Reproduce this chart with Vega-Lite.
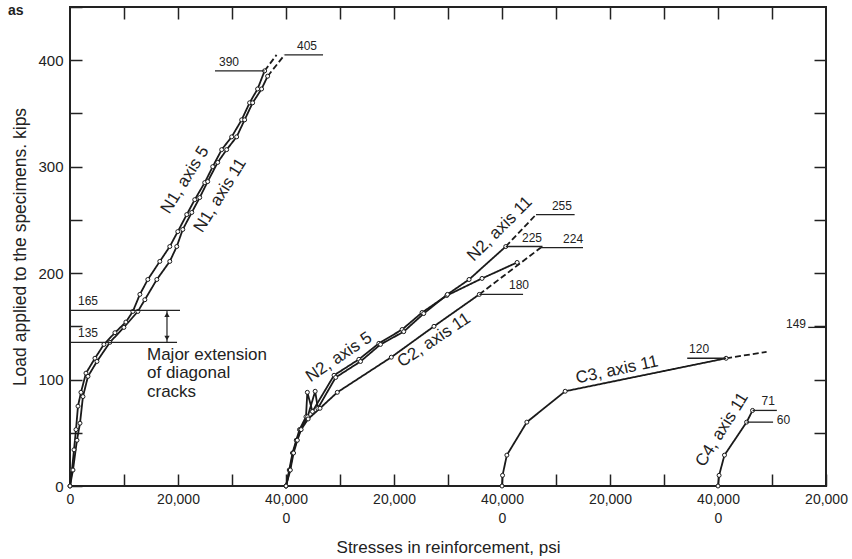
{
  "$schema": "https://vega.github.io/schema/vega-lite/v6.json",
  "width": 756,
  "height": 479,
  "autosize": "none",
  "padding": {"left": 70, "top": 7, "right": 26, "bottom": 73},
  "background": "white",
  "title": {"text": "as", "anchor": "start", "frame": "group", "fontSize": 14, "fontWeight": "bold", "font": "Liberation Sans", "color": "#222", "offset": 0, "baseline": "top", "dx": -62, "dy": 18},
  "config": {
    "view": {"stroke": "#222", "strokeWidth": 2},
    "font": "Liberation Sans",
    "text": {"color": "#222"}
  },
  "datasets": {
    "curves": [
      {"c": "N1a5", "d": "solid", "x": 0, "y": 0},
      {"c": "N1a5", "d": "solid", "x": 370, "y": 15},
      {"c": "N1a5", "d": "solid", "x": 740, "y": 34},
      {"c": "N1a5", "d": "solid", "x": 1110, "y": 53},
      {"c": "N1a5", "d": "solid", "x": 1480, "y": 75},
      {"c": "N1a5", "d": "solid", "x": 2030, "y": 88},
      {"c": "N1a5", "d": "solid", "x": 2960, "y": 106},
      {"c": "N1a5", "d": "solid", "x": 4620, "y": 120},
      {"c": "N1a5", "d": "solid", "x": 6280, "y": 133},
      {"c": "N1a5", "d": "solid", "x": 8320, "y": 144},
      {"c": "N1a5", "d": "solid", "x": 10350, "y": 154},
      {"c": "N1a5", "d": "solid", "x": 11640, "y": 164},
      {"c": "N1a5", "d": "solid", "x": 12940, "y": 180},
      {"c": "N1a5", "d": "solid", "x": 14410, "y": 194},
      {"c": "N1a5", "d": "solid", "x": 16630, "y": 211},
      {"c": "N1a5", "d": "solid", "x": 18480, "y": 225},
      {"c": "N1a5", "d": "solid", "x": 19960, "y": 239},
      {"c": "N1a5", "d": "solid", "x": 21620, "y": 255},
      {"c": "N1a5", "d": "solid", "x": 23100, "y": 269},
      {"c": "N1a5", "d": "solid", "x": 24950, "y": 285},
      {"c": "N1a5", "d": "solid", "x": 26430, "y": 300},
      {"c": "N1a5", "d": "solid", "x": 28090, "y": 316},
      {"c": "N1a5", "d": "solid", "x": 29940, "y": 328},
      {"c": "N1a5", "d": "solid", "x": 31790, "y": 344},
      {"c": "N1a5", "d": "solid", "x": 33260, "y": 360},
      {"c": "N1a5", "d": "solid", "x": 34740, "y": 373},
      {"c": "N1a5", "d": "solid", "x": 36040, "y": 390},
      {"c": "N1a5d", "d": "dash", "x": 36040, "y": 390},
      {"c": "N1a5d", "d": "dash", "x": 38250, "y": 405},
      {"c": "N1a11", "d": "solid", "x": 0, "y": 0},
      {"c": "N1a11", "d": "solid", "x": 550, "y": 15},
      {"c": "N1a11", "d": "solid", "x": 1290, "y": 43},
      {"c": "N1a11", "d": "solid", "x": 1850, "y": 59},
      {"c": "N1a11", "d": "solid", "x": 2400, "y": 84},
      {"c": "N1a11", "d": "solid", "x": 3330, "y": 103},
      {"c": "N1a11", "d": "solid", "x": 4990, "y": 117},
      {"c": "N1a11", "d": "solid", "x": 7390, "y": 135},
      {"c": "N1a11", "d": "solid", "x": 9980, "y": 149},
      {"c": "N1a11", "d": "solid", "x": 12570, "y": 164},
      {"c": "N1a11", "d": "solid", "x": 13860, "y": 175},
      {"c": "N1a11", "d": "solid", "x": 16080, "y": 194},
      {"c": "N1a11", "d": "solid", "x": 18480, "y": 211},
      {"c": "N1a11", "d": "solid", "x": 19770, "y": 225},
      {"c": "N1a11", "d": "solid", "x": 20880, "y": 241},
      {"c": "N1a11", "d": "solid", "x": 22550, "y": 257},
      {"c": "N1a11", "d": "solid", "x": 24020, "y": 271},
      {"c": "N1a11", "d": "solid", "x": 25500, "y": 286},
      {"c": "N1a11", "d": "solid", "x": 27350, "y": 304},
      {"c": "N1a11", "d": "solid", "x": 29010, "y": 316},
      {"c": "N1a11", "d": "solid", "x": 30860, "y": 328},
      {"c": "N1a11", "d": "solid", "x": 32340, "y": 344},
      {"c": "N1a11", "d": "solid", "x": 33820, "y": 360},
      {"c": "N1a11", "d": "solid", "x": 35480, "y": 373},
      {"c": "N1a11", "d": "solid", "x": 36600, "y": 385},
      {"c": "N1a11d", "d": "dash", "x": 36600, "y": 385},
      {"c": "N1a11d", "d": "dash", "x": 39730, "y": 405},
      {"c": "N2a5", "d": "solid", "x": 40000, "y": 0},
      {"c": "N2a5", "d": "solid", "x": 40600, "y": 15},
      {"c": "N2a5", "d": "solid", "x": 41200, "y": 31},
      {"c": "N2a5", "d": "solid", "x": 41900, "y": 43},
      {"c": "N2a5", "d": "solid", "x": 42500, "y": 53},
      {"c": "N2a5", "d": "solid", "x": 43700, "y": 65},
      {"c": "N2a5", "d": "solid", "x": 44900, "y": 70},
      {"c": "N2a5", "d": "solid", "x": 43950, "y": 88},
      {"c": "N2a5", "d": "solid", "x": 48900, "y": 104},
      {"c": "N2a5", "d": "solid", "x": 53500, "y": 119},
      {"c": "N2a5", "d": "solid", "x": 57200, "y": 134},
      {"c": "N2a5", "d": "solid", "x": 61500, "y": 147},
      {"c": "N2a5", "d": "solid", "x": 65200, "y": 163},
      {"c": "N2a5", "d": "solid", "x": 69800, "y": 179},
      {"c": "N2a5", "d": "solid", "x": 76300, "y": 195},
      {"c": "N2a5", "d": "solid", "x": 82800, "y": 210},
      {"c": "N2a11", "d": "solid", "x": 40000, "y": 0},
      {"c": "N2a11", "d": "solid", "x": 40700, "y": 15},
      {"c": "N2a11", "d": "solid", "x": 41300, "y": 31},
      {"c": "N2a11", "d": "solid", "x": 42000, "y": 43},
      {"c": "N2a11", "d": "solid", "x": 42700, "y": 53},
      {"c": "N2a11", "d": "solid", "x": 44000, "y": 65},
      {"c": "N2a11", "d": "solid", "x": 45900, "y": 73},
      {"c": "N2a11", "d": "solid", "x": 45400, "y": 89},
      {"c": "N2a11", "d": "solid", "x": 49200, "y": 102},
      {"c": "N2a11", "d": "solid", "x": 53800, "y": 117},
      {"c": "N2a11", "d": "solid", "x": 57500, "y": 133},
      {"c": "N2a11", "d": "solid", "x": 61800, "y": 145},
      {"c": "N2a11", "d": "solid", "x": 65500, "y": 162},
      {"c": "N2a11", "d": "solid", "x": 69900, "y": 180},
      {"c": "N2a11", "d": "solid", "x": 73900, "y": 194},
      {"c": "N2a11", "d": "solid", "x": 80700, "y": 225},
      {"c": "N2a11d", "d": "dash", "x": 80700, "y": 225},
      {"c": "N2a11d", "d": "dash", "x": 86300, "y": 255},
      {"c": "C2a11", "d": "solid", "x": 40000, "y": 0},
      {"c": "C2a11", "d": "solid", "x": 40800, "y": 15},
      {"c": "C2a11", "d": "solid", "x": 41400, "y": 31},
      {"c": "C2a11", "d": "solid", "x": 42100, "y": 43},
      {"c": "C2a11", "d": "solid", "x": 42800, "y": 53},
      {"c": "C2a11", "d": "solid", "x": 44100, "y": 63},
      {"c": "C2a11", "d": "solid", "x": 46300, "y": 73},
      {"c": "C2a11", "d": "solid", "x": 49500, "y": 88},
      {"c": "C2a11", "d": "solid", "x": 59500, "y": 121},
      {"c": "C2a11", "d": "solid", "x": 67400, "y": 150},
      {"c": "C2a11", "d": "solid", "x": 75800, "y": 180},
      {"c": "C2a11d", "d": "dash", "x": 75800, "y": 180},
      {"c": "C2a11d", "d": "dash", "x": 87200, "y": 224},
      {"c": "C3a11", "d": "solid", "x": 80000, "y": 0},
      {"c": "C3a11", "d": "solid", "x": 80100, "y": 10},
      {"c": "C3a11", "d": "solid", "x": 80900, "y": 29},
      {"c": "C3a11", "d": "solid", "x": 84600, "y": 60},
      {"c": "C3a11", "d": "solid", "x": 91700, "y": 89},
      {"c": "C3a11", "d": "solid", "x": 121500, "y": 120},
      {"c": "C3a11d", "d": "dash", "x": 121500, "y": 120},
      {"c": "C3a11d", "d": "dash", "x": 129000, "y": 126},
      {"c": "C4a11", "d": "solid", "x": 120000, "y": 0},
      {"c": "C4a11", "d": "solid", "x": 120200, "y": 10},
      {"c": "C4a11", "d": "solid", "x": 121200, "y": 29},
      {"c": "C4a11", "d": "solid", "x": 125300, "y": 60},
      {"c": "C4a11", "d": "solid", "x": 126400, "y": 71}
    ],
    "leaders": [
      {"label": "390", "x": 26850, "x2": 36040, "y": 390, "lx": 29450},
      {"label": "405", "x": 39730, "x2": 46860, "y": 405, "lx": 43890},
      {"label": "165", "x": 0, "x2": 20370, "y": 165, "lx": 3330},
      {"label": "135", "x": 0, "x2": 19820, "y": 135, "lx": 3330},
      {"label": "255", "x": 86300, "x2": 93450, "y": 255, "lx": 91100},
      {"label": "225", "x": 80700, "x2": 87500, "y": 225, "lx": 85560},
      {"label": "224", "x": 87200, "x2": 95000, "y": 224, "lx": 93160},
      {"label": "180", "x": 75800, "x2": 83900, "y": 180, "lx": 83150},
      {"label": "120", "x": 114300, "x2": 121500, "y": 120, "lx": 116500},
      {"label": "71", "x": 126400, "x2": 130900, "y": 71, "lx": 129300}
    ],
    "names": [
      {"label": "N1, axis 5", "x": 21300, "y": 287.5},
      {"label": "N1, axis 11", "x": 27800, "y": 273},
      {"label": "C4, axis 11", "x": 120750, "y": 53},
      {"label": "N2, axis 5", "x": 49800, "y": 121},
      {"label": "C2, axis 11", "x": 67400, "y": 137},
      {"label": "N2, axis 11", "x": 79600, "y": 241.5},
      {"label": "C3, axis 11", "x": 101300, "y": 109}
    ]
  },
  "resolve": {"axis": {"x": "independent", "y": "independent"}},
  "layer": [
    {
      "data": {"name": "curves"},
      "mark": {"type": "line", "color": "#1a1a1a", "strokeWidth": 1.8},
      "encoding": {
        "x": {
          "field": "x", "type": "quantitative",
          "scale": {"domain": [0, 140000], "nice": false, "zero": false},
          "axis": {
            "orient": "bottom",
            "values": [0, 10000, 20000, 30000, 40000, 50000, 60000, 70000, 80000, 90000, 100000, 110000, 120000, 130000, 140000],
            "labelExpr": "datum.value % 20000 != 0 ? '' : datum.value == 0 ? '0' : datum.value % 40000 == 0 ? ['40,000', '0'] : '20,000'",
            "labelOverlap": false, "labelFlush": false, "labelBound": false,
            "labelFont": "Liberation Sans",
            "labelFontSize": 14, "labelLineHeight": 19, "labelColor": "#222",
            "labelPadding": 18,
            "tickSize": -12, "tickWidth": 1.5, "tickColor": "#222",
            "domain": false, "grid": false,
            "title": "Stresses in reinforcement, psi",
            "titleFont": "Liberation Sans",
            "titleFontSize": 17, "titleFontWeight": "normal", "titleColor": "#222",
            "titlePadding": 14
          }
        },
        "y": {
          "field": "y", "type": "quantitative",
          "scale": {"domain": [0, 450], "nice": false},
          "axis": {
            "orient": "left",
            "values": [0, 50, 100, 150, 200, 250, 300, 350, 400, 450],
            "labelExpr": "datum.value % 100 == 0 && datum.value < 450 ? datum.label : ''",
            "labelFontSize": 15, "labelColor": "#222", "labelPadding": 19,
            "labelOverlap": false, "labelBound": false, "labelFlush": false,
            "tickSize": -12, "tickWidth": 1.5, "tickColor": "#222",
            "domain": false, "grid": false,
            "title": "Load applied to the specimens. kips",
            "titleFontSize": 17.5, "titleFontWeight": "normal", "titleColor": "#222",
            "titlePadding": 8
          }
        },
        "detail": {"field": "c"},
        "strokeDash": {"field": "d", "type": "nominal", "scale": {"domain": ["solid", "dash"], "range": [[1, 0], [6, 3]]}, "legend": null}
      }
    },
    {
      "data": {"name": "curves"},
      "transform": [{"filter": "datum.d == 'solid'"}],
      "mark": {"type": "point", "shape": "circle", "filled": true, "fill": "white", "stroke": "#1a1a1a", "strokeWidth": 1, "size": 16, "opacity": 1},
      "encoding": {
        "x": {"field": "x", "type": "quantitative", "axis": {"orient": "top", "values": [10000, 20000, 30000, 40000, 50000, 60000, 70000, 80000, 90000, 100000, 110000, 120000, 130000], "labels": false, "tickSize": -12, "tickWidth": 1.5, "tickColor": "#222", "domain": false, "grid": false, "title": null}},
        "y": {"field": "y", "type": "quantitative", "axis": {"orient": "right", "values": [50, 100, 150, 200, 250, 300, 350, 400], "labels": false, "tickSize": -12, "tickWidth": 1.5, "tickColor": "#222", "domain": false, "grid": false, "title": null}}
      }
    },
    {
      "data": {"name": "leaders"},
      "mark": {"type": "rule", "color": "#222", "strokeWidth": 1.3},
      "encoding": {
        "x": {"field": "x", "type": "quantitative", "axis": null},
        "x2": {"field": "x2"},
        "y": {"field": "y", "type": "quantitative", "axis": null}
      }
    },
    {
      "data": {"name": "leaders"},
      "mark": {"type": "text", "fontSize": 12, "baseline": "bottom", "align": "center", "dy": -2},
      "encoding": {
        "x": {"field": "lx", "type": "quantitative", "axis": null},
        "y": {"field": "y", "type": "quantitative", "axis": null},
        "text": {"field": "label"}
      }
    },
    {
      "data": {"values": [{"x": 125300, "x2": 130200, "y": 60, "label": "60"}, {"x": 136700, "x2": 140000, "y": 149, "label": "149"}]},
      "mark": {"type": "rule", "color": "#222", "strokeWidth": 1.3},
      "encoding": {
        "x": {"field": "x", "type": "quantitative", "axis": null},
        "x2": {"field": "x2"},
        "y": {"field": "y", "type": "quantitative", "axis": null}
      }
    },
    {
      "data": {"values": [{"x": 130900, "y": 60, "label": "60"}]},
      "mark": {"type": "text", "fontSize": 12, "baseline": "middle", "align": "left", "dy": -2},
      "encoding": {
        "x": {"field": "x", "type": "quantitative", "axis": null},
        "y": {"field": "y", "type": "quantitative", "axis": null},
        "text": {"field": "label"}
      }
    },
    {
      "data": {"values": [{"x": 136300, "y": 149, "label": "149"}]},
      "mark": {"type": "text", "fontSize": 12, "baseline": "middle", "align": "right", "dy": -3},
      "encoding": {
        "x": {"field": "x", "type": "quantitative", "axis": null},
        "y": {"field": "y", "type": "quantitative", "axis": null},
        "text": {"field": "label"}
      }
    },
    {
      "data": {"values": [{"x": 17960, "y": 135, "y2": 165}]},
      "mark": {"type": "rule", "color": "#222", "strokeWidth": 1.2},
      "encoding": {
        "x": {"field": "x", "type": "quantitative", "axis": null},
        "y": {"field": "y", "type": "quantitative", "axis": null},
        "y2": {"field": "y2"}
      }
    },
    {
      "data": {"values": [{"x": 17960, "y": 161, "dir": "up"}, {"x": 17960, "y": 139, "dir": "down"}]},
      "mark": {"type": "point", "filled": true, "color": "#222", "size": 28, "opacity": 1},
      "encoding": {
        "x": {"field": "x", "type": "quantitative", "axis": null},
        "y": {"field": "y", "type": "quantitative", "axis": null},
        "shape": {"field": "dir", "type": "nominal", "scale": {"domain": ["up", "down"], "range": ["triangle-up", "triangle-down"]}, "legend": null}
      }
    },
    {
      "data": {"values": [{"x": 14260, "y": 131}]},
      "mark": {"type": "text", "fontSize": 17, "align": "left", "baseline": "top", "lineHeight": 18.5},
      "encoding": {
        "x": {"field": "x", "type": "quantitative", "axis": null},
        "y": {"field": "y", "type": "quantitative", "axis": null},
        "text": {"value": ["Major extension", "of diagonal", "cracks"]}
      }
    },
    {
      "data": {"name": "names"},
      "transform": [{"filter": {"field": "label", "oneOf": ["N1, axis 5", "N1, axis 11", "C4, axis 11"]}}],
      "mark": {"type": "text", "fontSize": 17, "angle": -58, "align": "center", "baseline": "middle"},
      "encoding": {
        "x": {"field": "x", "type": "quantitative", "axis": null},
        "y": {"field": "y", "type": "quantitative", "axis": null},
        "text": {"field": "label"}
      }
    },
    {
      "data": {"name": "names"},
      "transform": [{"filter": {"field": "label", "oneOf": ["N2, axis 5", "C2, axis 11"]}}],
      "mark": {"type": "text", "fontSize": 17, "angle": -34, "align": "center", "baseline": "middle"},
      "encoding": {
        "x": {"field": "x", "type": "quantitative", "axis": null},
        "y": {"field": "y", "type": "quantitative", "axis": null},
        "text": {"field": "label"}
      }
    },
    {
      "data": {"name": "names"},
      "transform": [{"filter": {"field": "label", "equal": "N2, axis 11"}}],
      "mark": {"type": "text", "fontSize": 17, "angle": -45, "align": "center", "baseline": "middle"},
      "encoding": {
        "x": {"field": "x", "type": "quantitative", "axis": null},
        "y": {"field": "y", "type": "quantitative", "axis": null},
        "text": {"field": "label"}
      }
    },
    {
      "data": {"name": "names"},
      "transform": [{"filter": {"field": "label", "equal": "C3, axis 11"}}],
      "mark": {"type": "text", "fontSize": 17, "angle": -12, "align": "center", "baseline": "middle"},
      "encoding": {
        "x": {"field": "x", "type": "quantitative", "axis": null},
        "y": {"field": "y", "type": "quantitative", "axis": null},
        "text": {"field": "label"}
      }
    }
  ]
}
